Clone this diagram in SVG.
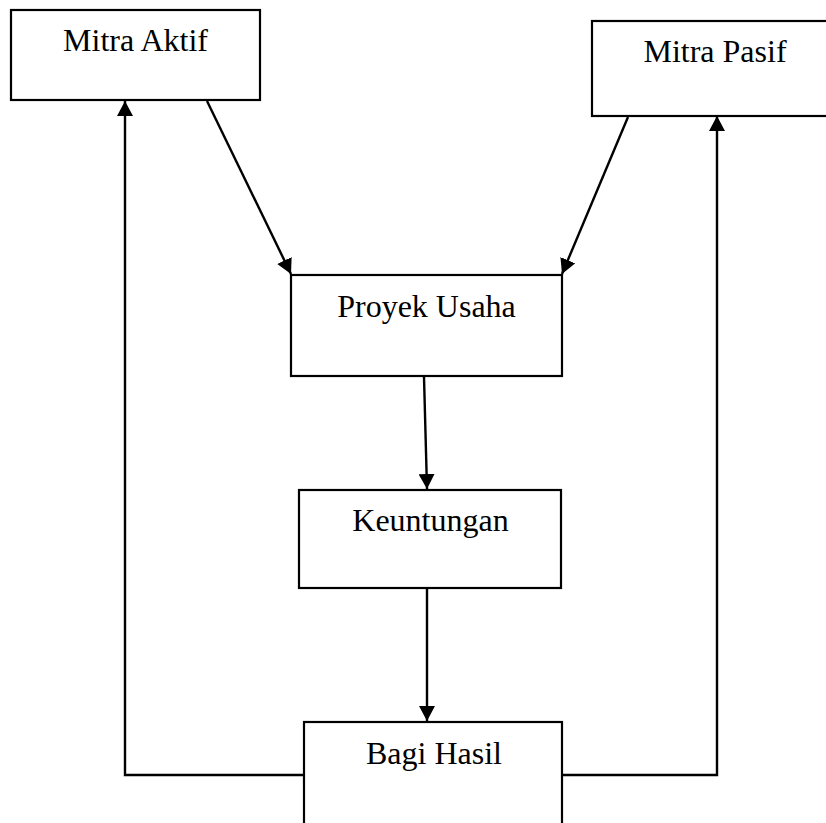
<svg xmlns="http://www.w3.org/2000/svg" width="826" height="823" viewBox="0 0 826 823">
<style>
.box{fill:#fff;stroke:#000;stroke-width:2.2}
.lbl{font-family:"Liberation Serif","Times New Roman",serif;font-size:32px;fill:#000;text-anchor:middle}
.con{fill:none;stroke:#000;stroke-width:2.4}
</style>
<defs>
<marker id="ah" viewBox="0 0 15 16" refX="15" refY="8" markerWidth="15" markerHeight="16" markerUnits="userSpaceOnUse" orient="auto">
<path d="M0,0 L15,8 L0,16 Z" fill="#000"/>
</marker>
</defs>
<rect width="826" height="823" fill="#fff"/>
<g id="connectors">
<line class="con" x1="207" y1="101" x2="291" y2="274" marker-end="url(#ah)"/>
<line class="con" x1="628" y1="117" x2="562" y2="274" marker-end="url(#ah)"/>
<line class="con" x1="424" y1="377" x2="427" y2="489" marker-end="url(#ah)"/>
<line class="con" x1="427" y1="589" x2="427" y2="721" marker-end="url(#ah)"/>
<polyline class="con" points="304,775 125,775 125,101" marker-end="url(#ah)"/>
<polyline class="con" points="562,775 717,775 717,116" marker-end="url(#ah)"/>
</g>
<g id="mitra-aktif">
<rect class="box" x="11" y="10" width="249" height="90"/>
<text class="lbl" x="135.5" y="51">Mitra Aktif</text>
</g>
<g id="mitra-pasif">
<rect class="box" x="592" y="21" width="250" height="95"/>
<text class="lbl" x="715" y="62">Mitra Pasif</text>
</g>
<g id="proyek-usaha">
<rect class="box" x="291" y="275" width="271" height="101"/>
<text class="lbl" x="426.5" y="317">Proyek Usaha</text>
</g>
<g id="keuntungan">
<rect class="box" x="299" y="490" width="262" height="98"/>
<text class="lbl" x="430.5" y="531">Keuntungan</text>
</g>
<g id="bagi-hasil">
<rect class="box" x="304" y="722" width="258" height="120"/>
<text class="lbl" x="434" y="764">Bagi Hasil</text>
</g>
</svg>
